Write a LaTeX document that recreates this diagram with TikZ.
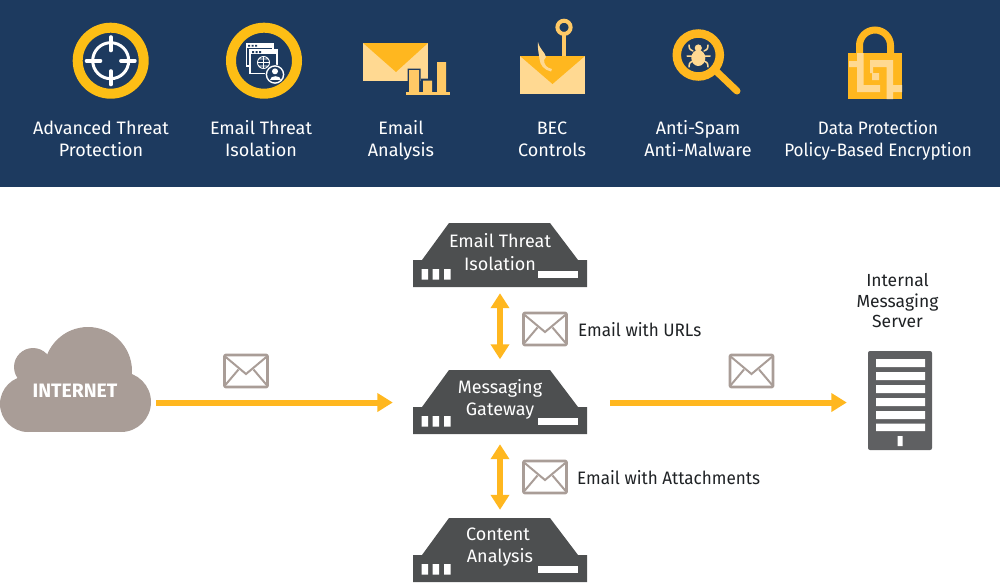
\documentclass[tikz,border=0pt]{standalone}
\usepackage{fontspec}
\setmainfont{Fira Sans}
\newfontfamily\narrowf[FakeStretch=0.95]{Fira Sans}
\usetikzlibrary{arrows.meta}
\definecolor{navy}{HTML}{1D3A5F}
\definecolor{gold}{HTML}{FDBE15}
\definecolor{amber}{HTML}{FFB71F}
\definecolor{pale}{HTML}{FFD992}
\definecolor{barc}{HTML}{FFC966}
\definecolor{slate}{HTML}{4D4F50}
\definecolor{srv}{HTML}{5F6062}
\definecolor{taupe}{HTML}{A99D97}
\definecolor{ink}{HTML}{1F2225}
\newcommand\lblfont{\fontsize{18}{21.5}\selectfont}
\newcommand\nlblfont{\narrowf\fontsize{18}{21.5}\selectfont}
\tikzset{
  x=1pt,y=-1pt,
  textbox/.style={inner sep=0pt,text height=13pt,text depth=0pt},
  toplabel/.style={textbox,text=white,font=\lblfont,align=center},
  boxlabel/.style={textbox,text=white,font=\lblfont,align=center},
  sidelabel/.style={textbox,text=ink,font=\nlblfont,anchor=west},
  flow/.style={draw=amber,line width=6pt,-{Triangle[length=15.5pt,width=18pt]}},
  flowboth/.style={draw=amber,line width=6pt,{Triangle[length=15pt,width=18pt]}-{Triangle[length=15pt,width=18pt]}},
  anchorbox/.style={minimum width=174pt,minimum height=64pt,inner sep=0pt},
  mailpic/.pic={
    \draw[taupe,line width=2.6pt,rounded corners=1pt,line join=round] (0,0) rectangle (43,32);
    \draw[taupe,line width=2pt] (0,1) -- (21.5,19) -- (43,1);
    \draw[taupe,line width=2pt] (0,31) -- (14,14.5) (43,31) -- (29,14.5);
  },
  boxpic/.pic={
    \fill[slate] (-78,37) -- (-87,37) -- (-87,64) -- (87,64) -- (87,37) -- (78,37) -- (50,0) -- (-51,0) -- (-78,37) -- cycle;
    \fill[white] (-78.5,46) rectangle (-72,56.5) (-67.4,46) rectangle (-61,56.5) (-56,46) rectangle (-49.4,56.5);
    \fill[white] (38,48) rectangle (78,54.7);
  }
}
\begin{document}
\begin{tikzpicture}
\useasboundingbox (0,0) rectangle (1000,582);
\fill[navy] (0,0) rectangle (1000,187);

% icon 1
\draw[gold,line width=10pt] (110.7,60.7) circle[radius=33pt];
\draw[white,line width=3pt] (110.7,60.7) circle[radius=18pt];
\draw[white,line width=3.6pt,line cap=round] (86.5,60.7) -- (100.5,60.7) (120.9,60.7) -- (134.9,60.7) (110.7,37) -- (110.7,50.5) (110.7,71) -- (110.7,84.5);
% icon 2
\draw[gold,line width=10pt] (264,60.7) circle[radius=33pt];
\draw[white,line width=1.4pt] (246.5,43.5) rectangle (273,66);
\fill[white] (246.5,43.5) rectangle (273,48);
\fill[navy] (248,44.8) rectangle (250,46.5) (251.5,44.8) rectangle (253.5,46.5) (255,44.8) rectangle (257,46.5);
\fill[navy] (250,50) rectangle (277,73.5);
\draw[white,line width=1.4pt] (250,50) rectangle (277,73.5);
\fill[white] (250,50) rectangle (277,54);
\fill[navy] (252,51) rectangle (254,53) (255.5,51) rectangle (257.5,53) (259,51) rectangle (261,53);
\draw[white,line width=.9pt] (263.5,62.5) circle[radius=6pt] (257.5,62.5) -- (269.5,62.5) (263.5,56.5) -- (263.5,68.5) (259,59) -- (268,59) (259,66) -- (268,66);
\fill[navy] (275,74.5) circle[radius=10pt];
\draw[white,line width=1.4pt] (275,74.5) circle[radius=8.6pt];
\fill[white] (275,71.3) circle[radius=3pt];
\fill[white] (269.5,80) .. controls (269.5,75) and (280.5,75) .. (280.5,80) -- cycle;
% icon 3
\fill[pale] (363,43) rectangle (428,81);
\fill[amber] (363,43) -- (428,43) -- (396,72) -- cycle;
\fill[navy] (407.5,68.5) rectangle (420.5,92) (421,78.5) rectangle (433.5,92) (435.5,60.5) rectangle (447.5,92);
\fill[barc] (409,70) rectangle (419,92) (423,80.5) rectangle (432,92) (437,62) rectangle (446,92);
\fill[barc] (406,92) rectangle (450,95);
% icon 4
\draw[barc,line width=4pt] (564,27.3) circle[radius=6.6pt];
\draw[barc,line width=4pt] (564,34) -- (564,57);
\fill[pale] (520,56) rectangle (585,94);
\fill[amber] (520,56) -- (585,56) -- (552.5,84) -- cycle;
\fill[pale] (538,42) .. controls (540,50) and (545,52) .. (546,57) -- (544,60) .. controls (544,65) and (547,68) .. (552,69) -- (551,71.5) .. controls (544,70) and (540,65) .. (539.5,59) .. controls (539,54) and (537.5,50) .. (538,42) -- cycle;
% icon 5
\draw[amber,line width=8.5pt] (698.3,55) circle[radius=21.5pt];
\draw[amber,line width=7pt,line cap=round] (716,71) -- (737,91);
\fill[pale] (698.3,58) ellipse[x radius=7pt,y radius=8pt];
\fill[pale] (698.3,48) circle[radius=3.6pt];
\draw[pale,line width=1.5pt,line cap=round] (689,45) .. controls (689,50) and (691,50) .. (693,51) (708,45) .. controls (708,50) and (706,50) .. (704,51) (687,56) -- (710,56) (689,67) .. controls (689,62) and (691,62) .. (693,61) (708,67) .. controls (708,62) and (706,62) .. (704,61);
% icon 6
\draw[amber,line width=7pt] (859.5,54) -- (859.5,45.5) arc[start angle=180,end angle=0,radius=15.5pt] -- (890.5,54);
\fill[amber] (848,53) rectangle (902,99);
\fill[pale] (849,61) rectangle (857,67) (857,53) rectangle (863.5,92) (863.5,85) rectangle (880,92);
\fill[pale] (870,60) rectangle (893,67) (886.5,67) rectangle (893,99) (893,85) rectangle (902,92);
\fill[pale] (872,73) rectangle (879,80) (870,67) rectangle (873,73);

% header labels
\node[toplabel] (t1a) at (101,128) {Advanced Threat};
\node[toplabel] (t1b) at (101,150) {Protection};
\node[toplabel] (t2a) at (261,128) {Email Threat};
\node[toplabel] (t2b) at (261,150) {Isolation};
\node[toplabel] (t3a) at (401,128) {Email};
\node[toplabel] (t3b) at (401,150) {Analysis};
\node[toplabel] (t4a) at (552,128) {BEC};
\node[toplabel] (t4b) at (552,150) {Controls};
\node[toplabel] (t5a) at (698,128) {Anti-Spam};
\node[toplabel] (t5b) at (698,150) {Anti-Malware};
\node[toplabel,font=\nlblfont] (t6a) at (878,128) {Data Protection};
\node[toplabel,font=\nlblfont] (t6b) at (878,150) {Policy-Based Encryption};

% cloud
\fill[taupe] (88,371) circle[radius=44pt] (33,367) circle[radius=19pt] (28,404) circle[radius=28pt] (121,402) circle[radius=30pt];
\fill[taupe] (28,378) rectangle (121,432);
\node[text=white,font=\fontsize{19.4}{22}\selectfont\bfseries,inner sep=0pt] (internet) at (75,391) {INTERNET};
\coordinate (cloudedge) at (151,402.5);

% appliances
\pic at (500,223) {boxpic};
\pic at (500,370) {boxpic};
\pic at (500,518) {boxpic};
\node[anchorbox] (threat) at (500,255) {};
\node[anchorbox] (gateway) at (500,402.5) {};
\node[anchorbox] (content) at (500,550) {};
\node[boxlabel] (threat1) at (500,241) {Email Threat};
\node[boxlabel] (threat2) at (500,263.5) {Isolation};
\node[boxlabel] (gate1) at (500,387) {Messaging};
\node[boxlabel] (gate2) at (500,409) {Gateway};
\node[boxlabel] (cont1) at (498,534) {Content};
\node[boxlabel] (cont2) at (500,556) {Analysis};

% server
\node[fill=srv,rounded corners=2pt,minimum width=64pt,minimum height=99pt,inner sep=0pt] (server) at (900,400.5) {};
\fill[white] (876,359) rectangle (925,367) (876,372) rectangle (925,380) (876,385) rectangle (925,393) (876,398) rectangle (925,406) (876,411) rectangle (925,419) (876,423.5) rectangle (925,431) (897.5,436) rectangle (902.5,446);
\node[text=ink,font=\fontsize{17.5}{20.5}\selectfont,align=center,inner sep=0pt] (serverlabel) at (897.5,301) {Internal\\Messaging\\Server};

% envelopes
\pic at (224.5,355) {mailpic};
\pic at (730,355) {mailpic};
\pic at (523.5,313) {mailpic};
\pic at (523.5,461) {mailpic};

% side labels
\node[sidelabel] (urls) at (578,330) {Email with URLs};
\node[sidelabel] (att) at (577,478) {Email with Attachments};

% connectors
\draw[flow] (cloudedge) ++(5,0) -- ([xshift=-20pt]gateway.west);
\draw[flow] ([xshift=23pt]gateway.east) -- ([xshift=-21pt]server.west |- gateway.east);
\draw[flowboth] ([yshift=-6pt]threat.south) -- ([yshift=11pt]gateway.north);
\draw[flowboth] ([yshift=-9.5pt]gateway.south) -- ([yshift=8pt]content.north);
\end{tikzpicture}
\end{document}
